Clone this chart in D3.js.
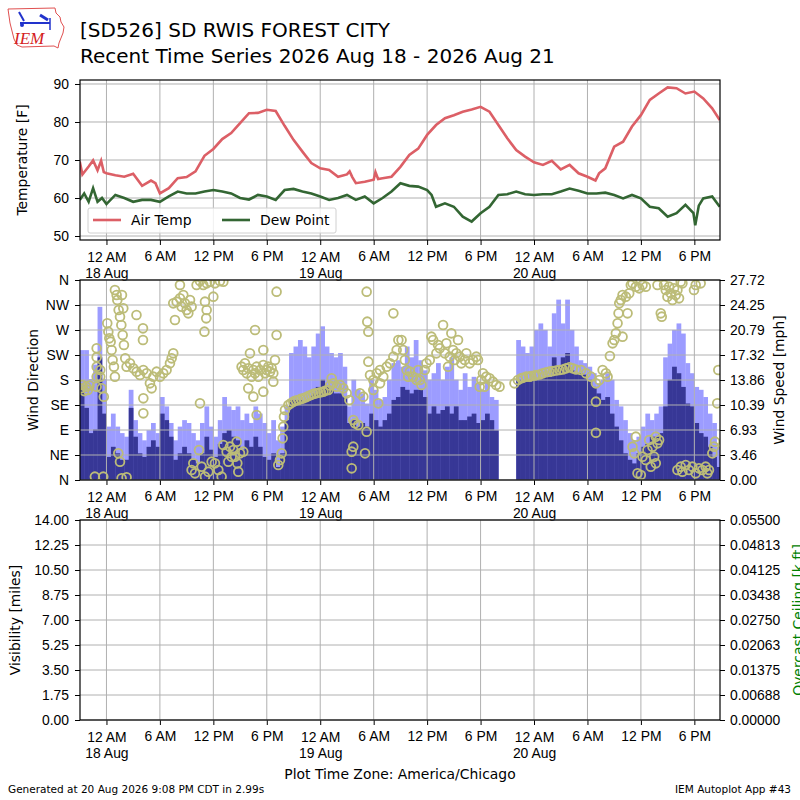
<!DOCTYPE html>
<html lang="en">
<head>
<meta charset="utf-8">
<title>SD526 meteogram</title>
<script src="https://d3js.org/d3.v7.min.js"></script>
<style>
  body { margin: 0; background: #fff; }
  svg { display: block; font-family: "DejaVu Sans", sans-serif; }
  .tick line { stroke: #000; }
  .tick text { font-size: 13.9px; fill: #000; }
  .domain { display: none; }
</style>
</head>
<body>
<div id="chart"></div>
<script>
// hours since 18 Aug 00:00 (America/Chicago)
const tempHours = [-3,-2.7,-2,-1.5,-1,-0.6,-0.3,0,1,2,3,4,5,5.5,6,7,8,9,10,11,12,13,14,15,16,17,18,19,20,21,22,23,24,25,26,27,
  27.3,27.6,28,29,30,30.2,30.5,31,32,33,34,35,36,37,38,39,40,41,42,43,44,45,46,47,48,49,50,51,52,53,54,54.9,55.3,
  56,57,58,59,60,61,62,63,64,65,66,67,68,68.85];
const airTemp = [69.6,66.2,68.3,69.9,67.3,69.8,66.8,66.5,66,65.6,66.4,63.2,64.6,63.9,61.2,62.6,65.2,65.5,67,71.1,72.9,75.5,77.1,79.7,
  82.3,82.4,83.2,82.9,79,75.3,72.2,69.2,67.8,67.4,65.6,66.2,67,65.5,63.9,64.3,64.8,66.8,65,65.2,65.6,68.2,71.3,73,76.6,79.2,
  81,81.8,82.7,83.3,84,82.7,79.2,75.7,72.6,70.9,69.4,68.7,69.8,67.5,68.7,66.5,65.6,64.6,66.5,67.8,73.5,74.8,78.8,81.8,85.8,
  87.5,89.1,88.9,87.5,88,86.2,83.6,80.5];

const dewHours = [-3,-2.5,-2,-1.5,-1,-0.5, ...d3.range(0, 37), 36.5, ...d3.range(37, 66), 65.9, 66.1, 66.5, 67, 68, 68.85];
const dewPoint = [59.5,61.2,59,62.6,59,60,
  58.4,60.8,60,59,59.5,59.5,59,60.4,61.7,61.2,61.2,61.7,62.1,61.7,61.2,60,59.6,60.8,60.4,59.5,62.1,62.4,61.7,61.2,
  60.4,59.5,60,60.8,59.5,60.4,58.6,60,61.7,63.9,63.2,63,62.1,
  60.8,
  57.7,58.6,57.7,55.1,53.8,56,57.7,60.8,61,61.7,61,60.8,61,61,61.7,62.5,61.9,61.2,61.2,61.4,60.8,59.9,60.8,59.9,
  57.7,57.3,55.1,56,58.2,
  56,52.8,58,59.9,60.4,57.7];

// half-hourly wind bars, starting 17 Aug 9 PM
const windHours = d3.range(-3, 69, 0.5);
const windSpeed = [
  12.5,10,6.5,7,17,9.2,
  3.2,4.6,3.7,2.8,2.8,10,6,3.7,3.2,4.6,5.5,4.6,9.2,8.3,6,2.8,3.7,4.6,3.7,2.8,2.3,3.7,6,4.2,3.2,5,6.5,6.9,6,5.5,
  4.2,5.5,4.6,6,4.6,3.2,2.8,3.7,1.8,3.7,8.3,11.1,11.1,11.1,10.9,11.1,12,12.9,13.9,12.9,
  12.5,12,12,11.5,7.9,8.3,7.4,7.9,7.4,9.2,8.3,7.4,8.3,9.2,11.1,11.5,
  12.9,12.5,12,12.5,12.5,11.5,9.2,10.2,9.2,9.7,10.2,9.2,10.2,8.3,8.3,8.8,9.2,7.9,8.3,9.2,
  8.3,6.9,null,null,null,null,13.9,13.6,13.9,13.9,13.9,14.1,14.3,14.3,17,15.7,
  17,17.6,15.2,14.8,14.8,14.6,13.9,12.9,12,11.1,11.5,9.2,7.4,5.5,3.7,2.8,2.3,3.7,4.6,5,
  6,6,6.5,10.2,13.9,15.7,14.8,12.9,10.6,10.2,7.9,6.5,6,4.6,3.2,1.8];
const windGust = [
  18,18,14,16,24,14,
  7.4,9.2,7.4,6.5,6,12.5,8.3,6.5,5.5,6.9,7.9,6.5,11.5,10.2,7.9,5.5,7.4,8.3,7.9,6.5,5.5,7.9,10.2,7.4,6,8.3,11.5,10.2,9.7,10.2,
  8.3,9.2,7.9,10.2,9.2,7.9,6.5,8.3,5.5,7.4,10.2,17.6,18.5,19.4,18.5,17,18.5,20.3,21.3,18.5,
  17.6,17,17.6,15.7,10.2,13.9,12.5,12,10.6,13.9,12.5,11.1,11.5,13.9,16.2,16.6,
  15.7,18.5,17,19.4,16.6,15.2,13.9,14.8,16.2,13.9,15.7,17,13.9,12.5,14.8,12.9,14.3,13.4,12.5,13.9,
  11.5,11.1,null,null,null,null,19.4,18.5,17.6,18.5,20.8,21.7,20.8,18.5,23.1,25,
  21.7,25,20.8,18.5,16.6,16.2,15.7,14.8,13.4,13.9,14.8,13.9,11.1,10.2,8.3,6.5,5.5,6,7.4,9.2,
  8.3,9.2,10.2,17,18.9,20.8,21.7,20.3,16.2,14.8,12.9,12.5,11.5,9.2,7.9,4.6];

// [hour, degrees]
const windDir = [
[-2.9,165],[-2.7,171],[-2.5,160],[-2.3,168],[-2.1,162],[-1.9,170],
[-1.3,6],[-1.1,237],[-1.1,221],[-1.1,204],[-1.1,186],[-1.1,168],[-0.7,198],[-0.7,186],[-0.55,165],[-0.36,6],[-0.3,150],
[0.09,282],[0.21,267],[0.32,255],[0.47,249],[0.58,234],[0.69,216],[0.84,204],[0.95,186],
[0.95,342],[1.14,333],[1.22,324],[1.37,306],[1.52,294],[1.67,279],[1.82,261],[1.96,243],[2.11,219],[1.89,309],[1.74,333],
[1.33,48],[1.52,33],[1.7,3],[2.26,5],
[2.26,204],[2.64,210],[3.01,201],[3.39,195],[3.76,189],[4.14,198],[4.51,192],[4.88,174],[5.07,165],[5.26,186],[5.63,195],
[6.01,186],[6.38,192],[6.75,198],[7.13,210],[7.32,219],[7.5,228],
[3.37,297],[4.1,273],[4.1,252],[4.14,147],[4.14,120],
[7.5,318],[7.69,288],[7.88,321],[8.25,327],[8.25,351],[8.44,312],[8.63,333],[8.81,318],[9.0,306],[9.19,300],[9.38,324],[9.56,312],
[10.12,351],[10.5,358],[10.87,351],[11.25,354],[11.62,357],[12.18,354],[12.74,358],[13.12,357],[11.06,321],[11.25,306],[11.2,291],[11.0,267],[12.0,330],
[9.56,18],[9.75,30],[9.94,12],[10.39,54],[10.69,24],[11.06,6],[11.44,15],[11.81,33],[12.18,30],[12.56,18],[12.93,6],[13.12,63],
[13.49,51],[13.68,33],[13.87,60],[14.05,42],[14.24,54],[14.43,42],[14.62,69],[14.69,30],[14.8,15],[14.99,48],[15.36,51],
[10.5,138],
[15.17,204],[15.36,198],[15.55,210],[15.74,192],[15.92,201],[16.11,228],[16.3,186],[16.49,198],[16.68,192],[16.86,204],
[17.05,186],[17.24,198],[17.61,207],[17.8,192],[17.98,198],[18.17,204],[18.36,195],[18.54,201],[18.73,192],[18.92,216],
[15.92,165],[16.49,150],[17.61,159],[16.86,117],[16.68,270],[17.61,234],[19.1,261],[19.1,339],[18.73,177],
[19.29,27],[19.48,36],[19.67,48],[19.78,75],[19.85,96],[19.93,114],[20.04,126],
[20.42,135],[20.7,138],[20.98,141],[21.26,143],[21.54,144],[21.82,146],[22.1,147],[22.38,149],[22.67,151],[22.95,153],
[23.23,155],[23.51,156],[23.79,157],[24.07,158],[24.35,159],[24.63,161],[24.91,162],[25.1,170],[25.28,183],[25.47,174],
[25.84,168],[26.22,171],[26.59,165],[26.97,156],[27.27,144],
[27.53,51],[27.53,21],[27.71,108],[27.71,60],[27.9,102],[28.27,99],[28.46,156],[28.84,150],[29.03,48],[29.21,87],
[29.21,339],[29.28,285],[29.4,267],[29.4,213],[29.59,189],[29.96,180],[29.96,162],[30.34,192],[30.52,138],[30.71,198],
[30.71,174],[31.08,186],[31.46,204],[31.83,210],[32.21,222],[32.21,300],[32.58,234],[32.77,252],
[33.13,252],[33.31,234],[33.5,216],[33.69,198],[33.87,186],[34.06,195],[34.43,186],[34.81,180],[34.99,198],[35.18,180],
[35.37,171],[35.74,198],[35.93,210],[36.3,216],[36.48,258],[36.67,252],[37.04,228],[37.23,243],[37.42,237],[37.79,279],
[37.98,228],[38.16,246],[38.35,204],[38.54,222],[38.72,264],[38.91,234],[39.1,216],[39.28,228],[39.47,252],[39.66,222],
[39.84,210],[40.22,216],[40.4,228],[40.78,210],[41.15,216],[41.52,222],[41.71,216],[41.9,168],[42.08,180],[42.27,192],
[42.45,168],[42.64,186],[43.01,183],[43.39,177],[43.76,171],[44.13,168],
[45.81,174],[46.19,180],[46.56,183],[46.75,184],[47.12,186],[47.49,186],[47.68,187],[48.05,188],[48.24,189],[48.61,190],
[48.98,192],[49.36,194],[49.73,195],[50.1,196],[50.48,197],[50.85,198],[51.22,199],[51.6,201],[51.97,203],[52.34,201],
[52.72,199],[53.28,198],[53.84,192],[54.4,186],[54.95,174],[55.33,180],[55.7,198],[56.07,192],[56.26,186],[54.95,141],[54.95,85],
[56.52,223],[56.82,246],[57.01,252],[57.19,264],[57.38,282],[57.49,300],[57.57,318],[57.75,324],[57.94,333],[57.94,258],
[58.31,330],[58.5,300],[58.69,336],[58.87,351],[59.06,354],[59.43,348],[59.81,345],[60.18,351],[60.55,348],
[59.06,60],[59.25,48],[59.43,78],[59.62,12],[59.99,9],[60.18,42],[60.55,36],[60.74,54],[60.93,72],[61.11,24],[61.3,60],
[61.49,42],[61.67,78],[61.67,30],[61.86,66],[62.04,72],
[61.86,351],[62.23,300],[62.34,294],[62.6,351],[62.79,342],[62.98,330],[63.16,348],[63.35,336],[63.54,324],[63.72,345],
[63.91,333],[64.1,342],[64.28,327],[64.47,357],[64.66,354],
[64.1,18],[64.47,24],[64.66,15],[65.03,27],[65.4,18],[65.78,24],[66.15,12],[66.52,21],[66.9,18],[67.27,24],[67.46,12],[67.64,18],
[65.96,342],[66.15,351],[66.71,354],
[68.02,48],[68.2,60],[68.31,69],[68.57,138],[68.69,198]
];

// axis ticks and labels
const timeTicks = d3.range(0, 67, 6);
const tickDates = ["18 Aug", "19 Aug", "20 Aug"];
const dirTicks = [0, 45, 90, 135, 180, 225, 270, 315, 360];
const dirLabels = ["N", "NE", "E", "SE", "S", "SW", "W", "NW", "N"];
const speedTickLabels = ["0.00","3.46","6.93","10.39","13.86","17.32","20.79","24.25","27.72"];
const visTicks = [0, 1.75, 3.5, 5.25, 7, 8.75, 10.5, 12.25, 14];
const ceilTickLabels = ["0.00000","0.00688","0.01375","0.02063","0.02750","0.03438","0.04125","0.04813","0.05500"];

const W = 800, H = 800;
const left = 80, right = 720;
const panels = { temp: [80, 240], wind: [280, 480], vis: [520, 720] };

const svg = d3.select("#chart").append("svg")
  .attr("width", W).attr("height", H);

const x = d3.scaleLinear().domain([-2.97, 68.88]).range([left, right]);

function timeLabel(h) {
  const r = h % 24;
  return r === 0 ? "12 AM" : r === 6 ? "6 AM" : r === 12 ? "12 PM" : "6 PM";
}

// common panel frame: clip, x axis
function makePanel(name, y0, y1) {
  const defs = svg.append("defs");
  defs.append("clipPath").attr("id", "clip-" + name)
    .append("rect").attr("x", left).attr("y", y0).attr("width", right - left).attr("height", y1 - y0);

  const xAxis = svg.append("g")
    .attr("transform", `translate(0,${y1})`)
    .call(d3.axisBottom(x).tickValues(timeTicks).tickSize(5).tickPadding(6).tickFormat(timeLabel));
  xAxis.selectAll(".tick text").each(function (h) {
    const t = d3.select(this);
    if (h % 24 === 0) {
      t.attr("dy", "0.82em");
      t.append("tspan").attr("x", 0).attr("dy", "1.15em").text(tickDates[h / 24]);
    }
  });
  return xAxis;
}

function drawGrid(y0, y1, yScale, yTicks) {
  const g = svg.append("g").attr("stroke", "#b0b0b0").attr("stroke-width", 1);
  g.selectAll("line.v").data(timeTicks).join("line")
    .attr("x1", d => x(d)).attr("x2", d => x(d)).attr("y1", y0).attr("y2", y1);
  g.selectAll("line.h").data(yTicks).join("line")
    .attr("x1", left).attr("x2", right).attr("y1", d => yScale(d)).attr("y2", d => yScale(d));
}

function drawFrame(y0, y1) {
  svg.append("rect").attr("x", left).attr("y", y0).attr("width", right - left).attr("height", y1 - y0)
    .attr("fill", "none").attr("stroke", "#000").attr("stroke-width", 1.2);
}

function axisTitle(text, xPos, yPos, color) {
  svg.append("text")
    .attr("transform", `translate(${xPos},${yPos}) rotate(-90)`)
    .attr("text-anchor", "middle")
    .attr("font-size", 13.9)
    .attr("fill", color || "#000")
    .text(text);
}

// ---- title + logo
const logo = svg.append("g");
logo.append("path")
  .attr("d", "M8,9 L55,8 L56,13 L60,17 L61,22 L64,27 L63,33 L61,38 L59,43 L58,48 L54,46 L22,47 L17,45 L14,39 L12,31 L10,23 L9,16 Z")
  .attr("fill", "none").attr("stroke", "#e05050").attr("stroke-width", 1);
logo.append("line").attr("x1", 20).attr("y1", 23).attr("x2", 50).attr("y2", 23)
  .attr("stroke", "#2233cc").attr("stroke-width", 2);
logo.append("line").attr("x1", 19).attr("y1", 12).attr("x2", 24).attr("y2", 21)
  .attr("stroke", "#2233cc").attr("stroke-width", 2);
logo.append("line").attr("x1", 40).attr("y1", 15).attr("x2", 48).attr("y2", 20)
  .attr("stroke", "#2233cc").attr("stroke-width", 3);
logo.append("line").attr("x1", 50).attr("y1", 18).attr("x2", 50).attr("y2", 30)
  .attr("stroke", "#2233cc").attr("stroke-width", 1.5);
logo.append("circle").attr("cx", 22).attr("cy", 25).attr("r", 2).attr("fill", "#2233cc");
logo.append("text").attr("x", 14).attr("y", 44)
  .attr("font-family", "'Liberation Serif', 'DejaVu Serif', serif").attr("font-style", "italic")
  .attr("font-size", 17).attr("fill", "#d42020").text("IEM");

svg.append("text").attr("x", 80).attr("y", 37).attr("font-size", 20).text("[SD526] SD RWIS FOREST CITY");
svg.append("text").attr("x", 80).attr("y", 63).attr("font-size", 20).text("Recent Time Series 2026 Aug 18 - 2026 Aug 21");

// ---- temperature panel
{
  const [y0, y1] = panels.temp;
  const y = d3.scaleLinear().domain([48.95, 91.05]).range([y1, y0]);
  const yTicks = [50, 60, 70, 80, 90];
  makePanel("temp", y0, y1);
  drawGrid(y0, y1, y, yTicks);

  const line = d3.line().x(d => x(d[0])).y(d => y(d[1]));
  const g = svg.append("g").attr("clip-path", "url(#clip-temp)");
  g.append("path").datum(d3.zip(tempHours, airTemp))
    .attr("d", line).attr("fill", "none").attr("stroke", "#dc5f66").attr("stroke-width", 2.6);
  g.append("path").datum(d3.zip(dewHours, dewPoint))
    .attr("d", line).attr("fill", "none").attr("stroke", "#336633").attr("stroke-width", 2.6);

  svg.append("g").attr("transform", `translate(${left},0)`)
    .call(d3.axisLeft(y).tickValues(yTicks).tickSize(5).tickPadding(6));
  drawFrame(y0, y1);
  axisTitle("Temperature [F]", 27, (y0 + y1) / 2);

  // legend
  const lg = svg.append("g");
  lg.append("rect").attr("x", 88).attr("y", 208).attr("width", 248).attr("height", 25).attr("rx", 2)
    .attr("fill", "#fff").attr("fill-opacity", 0.8).attr("stroke", "#d0d0d0");
  const items = [["Air Temp", "#dc5f66", 93], ["Dew Point", "#336633", 222]];
  items.forEach(([label, color, lx]) => {
    lg.append("line").attr("x1", lx).attr("x2", lx + 28).attr("y1", 220).attr("y2", 220)
      .attr("stroke", color).attr("stroke-width", 2.6);
    lg.append("text").attr("x", lx + 38).attr("y", 225).attr("font-size", 13.9).text(label);
  });
}

// ---- wind panel
{
  const [y0, y1] = panels.wind;
  const yDir = d3.scaleLinear().domain([0, 360]).range([y1, y0]);
  const ySpd = d3.scaleLinear().domain([0, 27.72]).range([y1, y0]);
  const spdTicks = d3.range(9).map(i => 27.72 * i / 8);
  makePanel("wind", y0, y1);

  const bars = svg.append("g").attr("clip-path", "url(#clip-wind)");
  const windRows = windHours.map((h, i) => ({ h, spd: windSpeed[i], gst: windGust[i] }))
    .filter(d => d.spd !== null);
  const bw = d => x(d.h + 0.5) - x(d.h) + 0.3;
  bars.selectAll("rect.gust").data(windRows).join("rect")
    .attr("x", d => x(d.h)).attr("width", bw)
    .attr("y", d => ySpd(d.gst)).attr("height", d => y1 - ySpd(d.gst))
    .attr("fill", "#9c9cff");
  bars.selectAll("rect.speed").data(windRows).join("rect")
    .attr("x", d => x(d.h)).attr("width", bw)
    .attr("y", d => ySpd(d.spd)).attr("height", d => y1 - ySpd(d.spd))
    .attr("fill", "#373796");

  drawGrid(y0, y1, yDir, dirTicks);

  svg.append("g").attr("clip-path", "url(#clip-wind)")
    .selectAll("circle").data(windDir).join("circle")
    .attr("cx", d => x(d[0])).attr("cy", d => yDir(d[1])).attr("r", 4.4)
    .attr("fill", "none").attr("stroke", "#bcbc78").attr("stroke-width", 1.8);

  svg.append("g").attr("transform", `translate(${left},0)`)
    .call(d3.axisLeft(yDir).tickValues(dirTicks).tickSize(5).tickPadding(6).tickFormat((d, i) => dirLabels[i]));
  svg.append("g").attr("transform", `translate(${right},0)`)
    .call(d3.axisRight(ySpd).tickValues(spdTicks).tickSize(5).tickPadding(5).tickFormat((d, i) => speedTickLabels[i]));
  drawFrame(y0, y1);
  axisTitle("Wind Direction", 38, (y0 + y1) / 2);
  axisTitle("Wind Speed [mph]", 784, (y0 + y1) / 2);
}

// ---- visibility / ceiling panel (no data)
{
  const [y0, y1] = panels.vis;
  const yVis = d3.scaleLinear().domain([0, 14]).range([y1, y0]);
  const yCeil = d3.scaleLinear().domain([0, 0.055]).range([y1, y0]);
  const ceilTicks = d3.range(9).map(i => 0.055 * i / 8);
  makePanel("vis", y0, y1);
  drawGrid(y0, y1, yVis, visTicks);
  svg.append("g").attr("transform", `translate(${left},0)`)
    .call(d3.axisLeft(yVis).tickValues(visTicks).tickSize(5).tickPadding(6).tickFormat(d3.format(".2f")));
  svg.append("g").attr("transform", `translate(${right},0)`)
    .call(d3.axisRight(yCeil).tickValues(ceilTicks).tickSize(5).tickPadding(5).tickFormat((d, i) => ceilTickLabels[i]));
  drawFrame(y0, y1);
  axisTitle("Visibility [miles]", 20, (y0 + y1) / 2);
  // the reference lets this label run off the right edge
  axisTitle("Overcast Ceiling [k ft]", 803, (y0 + y1) / 2, "#008000");
}

// ---- footer
svg.append("text").attr("x", 400).attr("y", 779).attr("text-anchor", "middle")
  .attr("font-size", 13.9).text("Plot Time Zone: America/Chicago");
svg.append("text").attr("x", 8).attr("y", 793).attr("font-size", 10.5)
  .text("Generated at 20 Aug 2026 9:08 PM CDT in 2.99s");
svg.append("text").attr("x", 791).attr("y", 793).attr("text-anchor", "end").attr("font-size", 10.5)
  .text("IEM Autoplot App #43");
</script>
</body>
</html>
